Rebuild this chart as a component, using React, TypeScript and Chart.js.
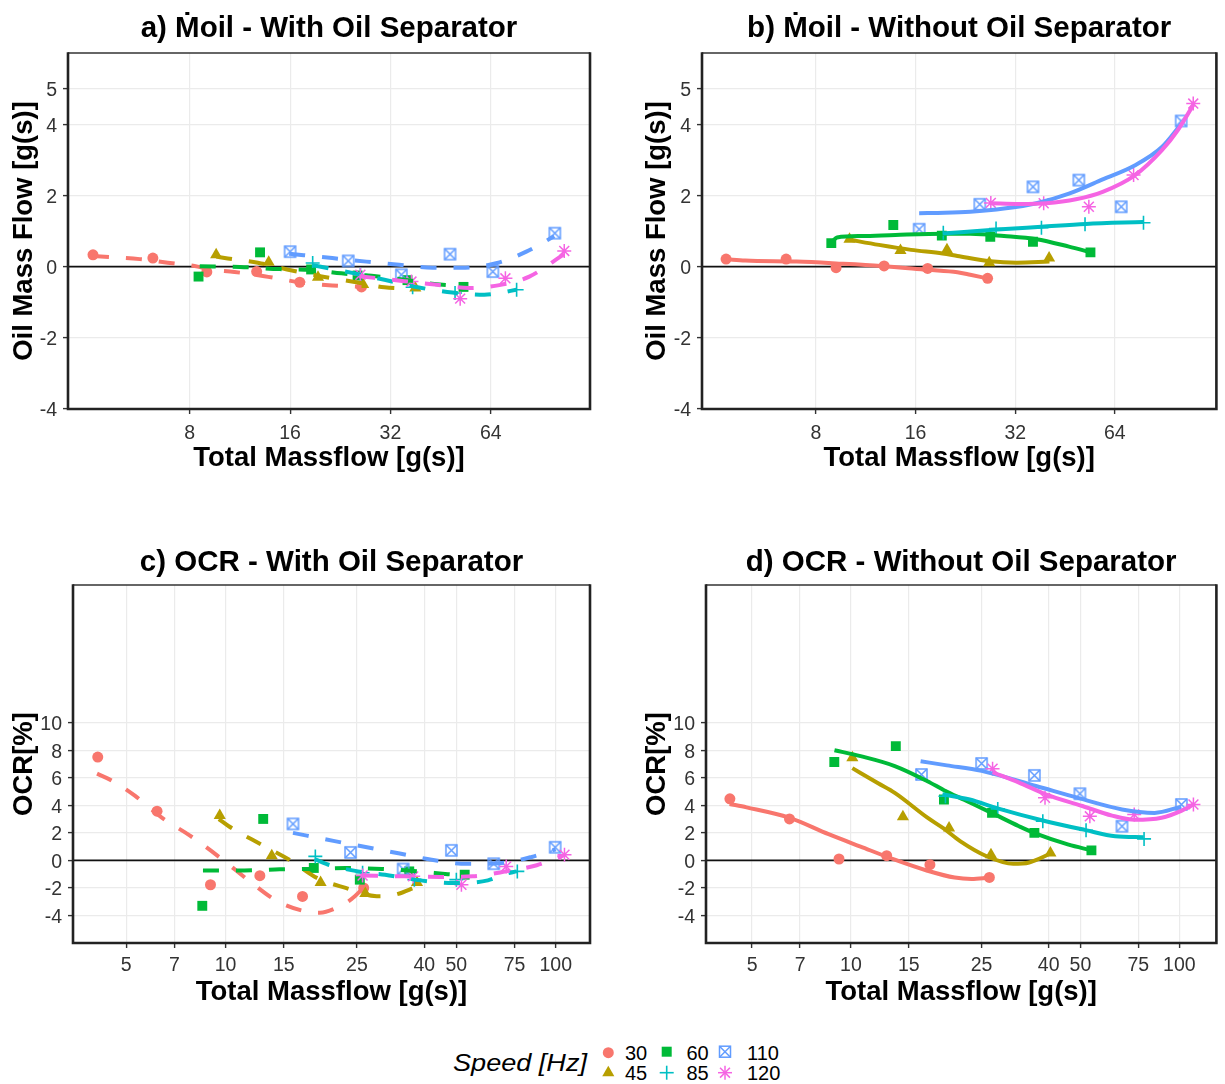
import React, { useEffect, useRef } from "react";
import { Chart, registerables } from "chart.js";

Chart.register(...registerables);

const FONT = "'Liberation Sans', Arial, Helvetica, sans-serif";
Chart.defaults.font.family = FONT;

// ---- series & axes ----
const speedLabels = ["30", "45", "60", "85", "110", "120"];
const speedColors = ["#F8766D", "#B79F00", "#00BA38", "#00BFC4", "#619CFF", "#F564E3"];

const log2Ticks = [8, 16, 32, 64];
const log10Ticks = [5, 7, 10, 15, 25, 40, 50, 75, 100];
const flowTicks = [-4, -2, 0, 2, 4, 5];
const ocrTicks = [-4, -2, 0, 2, 4, 6, 8, 10];

// ---- total massflow of each measurement [g/s], with oil separator ----
const mWith30 = [4.1, 6.2, 9.0, 12.7, 17.1, 26.2];
const mWith45 = [9.6, 13.8, 19.4, 26.5, 38.0];
const mWith60 = [8.5, 13.0, 18.5, 25.5, 36.0, 53.0];
const mWith85 = [18.7, 26.0, 37.3, 50.0, 76.5];
const mWith110 = [16.0, 23.9, 34.5, 48.3, 64.9, 99.6];
const mWith120 = [26.0, 37.0, 51.8, 70.8, 106.3];

// ---- total massflow of each measurement [g/s], without oil separator ----
const mWo30 = [4.28, 6.5, 9.2, 12.85, 17.4, 26.4];
const mWo45 = [10.1, 14.4, 19.9, 26.7, 40.5];
const mWo60 = [8.9, 13.7, 19.2, 26.9, 36.2, 54.0];
const mWo85 = [19.4, 28.0, 38.4, 52.0, 78.1];
const mWo110 = [16.4, 25.0, 36.2, 49.8, 66.9, 101.5];
const mWo120 = [27.0, 39.0, 53.4, 72.9, 110.4];

// ---- a) oil mass flow, with separator ----
const oilWith30 = [0.33, 0.24, -0.15, -0.14, -0.44, -0.57];
const oilWith45 = [0.33, 0.12, -0.3, -0.5, -0.6];
const oilWith60 = [-0.28, 0.4, -0.08, -0.25, -0.38, -0.57];
const oilWith85 = [0.1, -0.22, -0.58, -0.74, -0.65];
const oilWith110 = [0.42, 0.16, -0.23, 0.35, -0.14, 0.94];
const oilWith120 = [-0.23, -0.42, -0.9, -0.33, 0.44];

// ---- b) oil mass flow, without separator ----
const oilWo30 = [0.21, 0.21, -0.03, 0.02, -0.05, -0.33];
const oilWo45 = [0.77, 0.45, 0.47, 0.11, 0.24];
const oilWo60 = [0.66, 1.17, 0.87, 0.84, 0.7, 0.4];
const oilWo85 = [0.95, 1.07, 1.09, 1.19, 1.23];
const oilWo110 = [1.05, 1.75, 2.24, 2.43, 1.68, 4.09];
const oilWo120 = [1.79, 1.78, 1.68, 2.57, 4.58];

// ---- c) OCR, with separator ----
const ocrWith30 = [7.5, 3.57, -1.77, -1.11, -2.62, -2.0];
const ocrWith45 = [3.26, 0.34, -1.6, -2.4, -1.6];
const ocrWith60 = [-3.3, 3.01, -0.55, -1.4, -0.8, -1.04];
const ocrWith85 = [0.29, -0.9, -1.4, -1.4, -0.8];
const ocrWith110 = [2.65, 0.58, -0.63, 0.73, -0.24, 0.95];
const ocrWith120 = [-1.1, -1.16, -1.77, -0.44, 0.41];

// ---- d) OCR, without separator ----
const ocrWo30 = [4.47, 3.01, 0.1, 0.34, -0.31, -1.24];
const ocrWo45 = [7.46, 3.16, 2.36, 0.41, 0.54];
const ocrWo60 = [7.14, 8.3, 4.42, 3.45, 2.0, 0.73];
const ocrWo85 = [4.66, 3.74, 2.84, 2.19, 1.56];
const ocrWo110 = [6.24, 7.04, 6.17, 4.84, 2.48, 4.06];
const ocrWo120 = [6.66, 4.54, 3.2, 3.33, 4.06];

// ---- smoothed trends (x = massflow, y = value) ----
const fitOilWith30X = [4.1, 5.67, 6.87, 8.45, 9.18, 10.9, 13.4, 17.1, 21.4, 26.2];
const fitOilWith30Y = [0.3, 0.21, 0.11, 0.0, -0.08, -0.15, -0.27, -0.44, -0.53, -0.57];
const fitOilWith45X = [9.6, 10.4, 12.8, 16.2, 20.3, 25.0, 30.7, 38.0];
const fitOilWith45Y = [0.28, 0.23, 0.11, -0.11, -0.29, -0.43, -0.58, -0.62];
const fitOilWith60X = [8.57, 11.3, 14.9, 18.3, 22.8, 28.1, 35.2, 43.3, 53.3];
const fitOilWith60Y = [0.01, -0.01, -0.07, -0.09, -0.19, -0.26, -0.37, -0.49, -0.55];
const fitOilWith85X = [18.7, 21.0, 25.0, 30.7, 38.6, 49.1, 61.2, 67.9, 76.3];
const fitOilWith85Y = [0.04, -0.05, -0.19, -0.37, -0.58, -0.73, -0.79, -0.74, -0.65];
const fitOilWith110X = [15.9, 21.4, 27.1, 34.0, 42.8, 53.7, 66.9, 81.8, 99.2];
const fitOilWith110Y = [0.36, 0.24, 0.14, 0.05, -0.03, -0.03, 0.1, 0.42, 0.85];
const fitOilWith120X = [25.8, 35.2, 44.2, 55.2, 67.9, 83.5, 106.2];
const fitOilWith120Y = [-0.27, -0.41, -0.51, -0.6, -0.52, -0.28, 0.35];

const fitOilWo30X = [4.29, 4.89, 6.99, 9.2, 12.6, 17.4, 21.4, 23.4, 26.3];
const fitOilWo30Y = [0.21, 0.17, 0.14, 0.09, 0.02, -0.09, -0.16, -0.23, -0.33];
const fitOilWo45X = [10.06, 12.4, 15.5, 19.3, 21.4, 26.9, 32.3, 40.6];
const fitOilWo45Y = [0.76, 0.61, 0.47, 0.37, 0.3, 0.15, 0.11, 0.14];
const fitOilWo60X = [8.89, 9.26, 11.0, 13.9, 19.6, 23.4, 29.6, 37.1, 46.5, 54.1];
const fitOilWo60Y = [0.66, 0.82, 0.86, 0.89, 0.92, 0.92, 0.86, 0.77, 0.56, 0.4];
const fitOilWo85X = [19.3, 28.2, 38.4, 52.3, 77.9];
const fitOilWo85Y = [0.93, 1.04, 1.12, 1.2, 1.25];
const fitOilWo110X = [16.4, 19.6, 23.4, 29.6, 37.1, 46.5, 58.8, 73.7, 88.8, 101.8];
const fitOilWo110Y = [1.5, 1.51, 1.54, 1.63, 1.78, 2.05, 2.45, 2.85, 3.36, 4.02];
const fitOilWo120X = [26.9, 33.0, 39.7, 48.8, 58.8, 73.7, 88.8, 99.1, 110.6];
const fitOilWo120Y = [1.78, 1.76, 1.78, 1.89, 2.1, 2.57, 3.27, 3.83, 4.55];

const fitOcrWith30X = [4.08, 4.52, 5.31, 6.41, 7.8, 9.74, 11.8, 14.2, 17.4, 19.3, 21.9, 24.1, 25.9];
const fitOcrWith30Y = [6.3, 5.8, 4.7, 3.1, 1.8, 0.1, -1.5, -2.9, -3.7, -3.8, -3.4, -2.8, -2.1];
const fitOcrWith45X = [9.54, 10.2, 12.7, 15.7, 19.0, 23.1, 28.7, 32.5, 38.0];
const fitOcrWith45Y = [3.0, 2.5, 1.2, 0.0, -1.3, -2.0, -2.6, -2.5, -1.9];
const fitOcrWith60X = [8.54, 11.4, 14.6, 18.4, 23.1, 29.7, 38.2, 47.1, 53.0];
const fitOcrWith60Y = [-0.73, -0.73, -0.65, -0.62, -0.56, -0.62, -0.8, -1.0, -1.1];
const fitOcrWith85X = [18.6, 20.4, 25.2, 30.4, 38.8, 48.8, 62.3, 70.1, 76.2];
const fitOcrWith85Y = [0.1, -0.3, -0.8, -1.05, -1.45, -1.65, -1.45, -1.0, -0.8];
const fitOcrWith110X = [16.0, 21.4, 26.8, 33.7, 42.1, 53.8, 67.7, 84.6, 100];
const fitOcrWith110Y = [2.0, 1.4, 0.95, 0.5, 0.05, -0.25, -0.2, 0.25, 0.8];
const fitOcrWith120X = [25.9, 34.9, 44.6, 56.1, 70.6, 87.6, 106.5];
const fitOcrWith120Y = [-1.1, -1.16, -1.2, -1.15, -0.8, -0.35, 0.4];

const fitOcrWo30X = [4.27, 4.81, 6.48, 8.55, 10.7, 13.6, 17.1, 20.7, 23.3, 26.3];
const fitOcrWo30Y = [4.1, 3.85, 3.1, 1.9, 1.0, 0.05, -0.75, -1.25, -1.35, -1.25];
const fitOcrWo45X = [10.1, 12.1, 13.6, 17.1, 19.2, 21.5, 25.9, 31.2, 34.9, 40.6];
const fitOcrWo45Y = [6.7, 5.6, 4.9, 3.1, 2.3, 1.4, 0.3, -0.25, -0.15, 0.5];
const fitOcrWo60X = [8.91, 10.7, 13.6, 17.1, 19.2, 22.1, 26.8, 32.5, 36.6, 46.0, 53.6];
const fitOcrWo60Y = [8.0, 7.57, 6.85, 5.75, 5.1, 4.4, 3.45, 2.48, 1.94, 1.14, 0.75];
const fitOcrWo85X = [19.0, 23.0, 27.8, 38.4, 51.8, 63.8, 77.9];
const fitOcrWo85Y = [4.8, 4.42, 3.8, 2.9, 2.2, 1.75, 1.68];
const fitOcrWo110X = [16.3, 19.6, 25.0, 36.6, 49.7, 66.9, 84.1, 101.4];
const fitOcrWo110Y = [7.2, 6.9, 6.5, 5.4, 4.5, 3.7, 3.45, 3.9];
const fitOcrWo120X = [27.0, 32.5, 39.2, 50.7, 62.4, 73.2, 88.3, 101.4, 110.2];
const fitOcrWo120Y = [6.4, 5.65, 4.8, 3.95, 3.25, 2.95, 3.1, 3.6, 4.05];

const massWith = [mWith30, mWith45, mWith60, mWith85, mWith110, mWith120];
const massWo = [mWo30, mWo45, mWo60, mWo85, mWo110, mWo120];

type PanelSpec = {
  left: number; top: number; w: number; h: number;
  yAxisW: number; xAxisH: number; padRight: number;
  title: string; titlePad: { top: number; bottom: number };
  yTitle: string;
  xMin: number; xMax: number; xTicks: number[];
  yMin: number; yMax: number; yTicks: number[];
  xTickPad: number; xTitlePad: number;
  dashed: boolean;
  mass: number[][]; values: number[][]; fitX: number[][]; fitY: number[][];
};

const panels: PanelSpec[] = [
  {
    left: 0, top: 0, w: 612, h: 480, yAxisW: 68, xAxisH: 71, padRight: 22,
    title: "a) \u1E40oil - With Oil Separator", titlePad: { top: 11.1, bottom: 6.5 },
    yTitle: "Oil Mass Flow [g(s)]",
    xMin: 3.45, xMax: 127, xTicks: log2Ticks, yMin: -4, yMax: 6, yTicks: flowTicks,
    xTickPad: 7.6, xTitlePad: 4.8, dashed: true,
    mass: massWith,
    values: [oilWith30, oilWith45, oilWith60, oilWith85, oilWith110, oilWith120],
    fitX: [fitOilWith30X, fitOilWith45X, fitOilWith60X, fitOilWith85X, fitOilWith110X, fitOilWith120X],
    fitY: [fitOilWith30Y, fitOilWith45Y, fitOilWith60Y, fitOilWith85Y, fitOilWith110Y, fitOilWith120Y],
  },
  {
    left: 633, top: 0, w: 592, h: 480, yAxisW: 69, xAxisH: 71, padRight: 2,
    title: "b) \u1E40oil - Without Oil Separator", titlePad: { top: 11.1, bottom: 6.5 },
    yTitle: "Oil Mass Flow [g(s)]",
    xMin: 3.62, xMax: 129.7, xTicks: log2Ticks, yMin: -4, yMax: 6, yTicks: flowTicks,
    xTickPad: 7.6, xTitlePad: 4.8, dashed: false,
    mass: massWo,
    values: [oilWo30, oilWo45, oilWo60, oilWo85, oilWo110, oilWo120],
    fitX: [fitOilWo30X, fitOilWo45X, fitOilWo60X, fitOilWo85X, fitOilWo110X, fitOilWo120X],
    fitY: [fitOilWo30Y, fitOilWo45Y, fitOilWo60Y, fitOilWo85Y, fitOilWo110Y, fitOilWo120Y],
  },
  {
    left: 0, top: 530, w: 612, h: 480, yAxisW: 73, xAxisH: 67, padRight: 22,
    title: "c) OCR - With Oil Separator", titlePad: { top: 15.6, bottom: 4.0 },
    yTitle: "OCR[%]",
    xMin: 3.45, xMax: 127, xTicks: log10Ticks, yMin: -6, yMax: 20, yTicks: ocrTicks,
    xTickPad: 6.1, xTitlePad: 1.5, dashed: true,
    mass: massWith,
    values: [ocrWith30, ocrWith45, ocrWith60, ocrWith85, ocrWith110, ocrWith120],
    fitX: [fitOcrWith30X, fitOcrWith45X, fitOcrWith60X, fitOcrWith85X, fitOcrWith110X, fitOcrWith120X],
    fitY: [fitOcrWith30Y, fitOcrWith45Y, fitOcrWith60Y, fitOcrWith85Y, fitOcrWith110Y, fitOcrWith120Y],
  },
  {
    left: 633, top: 530, w: 592, h: 480, yAxisW: 73, xAxisH: 67, padRight: 2,
    title: "d) OCR - Without Oil Separator", titlePad: { top: 15.6, bottom: 4.0 },
    yTitle: "OCR[%]",
    xMin: 3.62, xMax: 129.7, xTicks: log10Ticks, yMin: -6, yMax: 20, yTicks: ocrTicks,
    xTickPad: 6.1, xTitlePad: 1.5, dashed: false,
    mass: massWo,
    values: [ocrWo30, ocrWo45, ocrWo60, ocrWo85, ocrWo110, ocrWo120],
    fitX: [fitOcrWo30X, fitOcrWo45X, fitOcrWo60X, fitOcrWo85X, fitOcrWo110X, fitOcrWo120X],
    fitY: [fitOcrWo30Y, fitOcrWo45Y, fitOcrWo60Y, fitOcrWo85Y, fitOcrWo110Y, fitOcrWo120Y],
  },
];

// open square with a diagonal cross (used for 110 Hz)
function boxCross(color: string): HTMLCanvasElement {
  const c = document.createElement("canvas");
  c.width = 15;
  c.height = 15;
  const g = c.getContext("2d")!;
  g.strokeStyle = color;
  g.lineWidth = 1.5;
  g.strokeRect(2, 2, 11, 11);
  g.beginPath();
  g.moveTo(2, 2);
  g.lineTo(13, 13);
  g.moveTo(13, 2);
  g.lineTo(2, 13);
  g.stroke();
  return c;
}

// zero reference line under the data, panel frame on top
const framePlugin = {
  id: "panelFrame",
  beforeDatasetsDraw(chart: any) {
    const { ctx, chartArea: a, scales } = chart;
    const y0 = scales.y.getPixelForValue(0);
    ctx.save();
    ctx.strokeStyle = "#111";
    ctx.lineWidth = 1.6;
    ctx.beginPath();
    ctx.moveTo(a.left, y0);
    ctx.lineTo(a.right, y0);
    ctx.stroke();
    ctx.restore();
  },
  afterDraw(chart: any) {
    const { ctx, chartArea: a } = chart;
    ctx.save();
    ctx.strokeStyle = "#333";
    ctx.lineWidth = 1.4;
    ctx.beginPath();
    ctx.moveTo(a.left, a.top);
    ctx.lineTo(a.right, a.top);
    ctx.stroke();
    ctx.strokeStyle = "#222";
    ctx.lineWidth = 2.6;
    ctx.beginPath();
    ctx.moveTo(a.left, a.top - 0.7);
    ctx.lineTo(a.left, a.bottom);
    ctx.lineTo(a.right, a.bottom);
    ctx.lineTo(a.right, a.top - 0.7);
    ctx.stroke();
    ctx.restore();
  },
};

function buildConfig(spec: PanelSpec): any {
  const markers = [
    { style: "circle", r: 5.5, bw: 0 },
    { style: "triangle", r: 7, bw: 0 },
    { style: "rect", r: 7, bw: 0 },
    { style: "cross", r: 7, bw: 1.6 },
    { style: boxCross(speedColors[4]), r: 6, bw: 0 },
    { style: "star", r: 7, bw: 1.5 },
  ];
  const datasets: any[] = [];
  speedLabels.forEach((lab, i) => {
    datasets.push({
      label: lab + " Hz trend",
      data: spec.fitX[i].map((x, k) => ({ x, y: spec.fitY[i][k] })),
      showLine: true,
      fill: false,
      borderColor: speedColors[i],
      borderWidth: 4,
      borderDash: spec.dashed ? [16, 17] : [],
      borderCapStyle: "butt",
      borderJoinStyle: "round",
      cubicInterpolationMode: "monotone",
      pointRadius: 0,
      pointHoverRadius: 0,
      order: 5 - i,
    });
    datasets.push({
      label: lab + " Hz",
      data: spec.mass[i].map((x, k) => ({ x, y: spec.values[i][k] })),
      showLine: false,
      pointStyle: markers[i].style,
      pointRadius: markers[i].r,
      pointHoverRadius: markers[i].r,
      pointBackgroundColor: speedColors[i],
      pointBorderColor: speedColors[i],
      pointBorderWidth: markers[i].bw,
      order: 11 - i,
    });
  });

  const grid = {
    color: "#EBEBEB",
    lineWidth: 1.2,
    drawTicks: true,
    tickLength: 5,
    tickColor: "#333",
    tickWidth: 1.4,
  };
  const tickFont = { size: 19.5, family: FONT };
  const axisTitleFont = { size: 27.5, weight: "bold" as const, family: FONT };

  return {
    type: "scatter",
    data: { datasets },
    plugins: [framePlugin],
    options: {
      animation: false,
      responsive: false,
      devicePixelRatio: 1,
      events: [],
      layout: { padding: { left: 0, right: spec.padRight, top: 0, bottom: 0 } },
      plugins: {
        legend: { display: false },
        tooltip: { enabled: false },
        title: {
          display: true,
          text: spec.title,
          fullSize: false,
          color: "#000",
          font: { size: 29.5, weight: "bold", family: FONT, lineHeight: 1.2 },
          padding: spec.titlePad,
        },
      },
      scales: {
        x: {
          type: "logarithmic",
          position: "bottom",
          min: spec.xMin,
          max: spec.xMax,
          afterBuildTicks: (s: any) => {
            s.ticks = spec.xTicks.map((v) => ({ value: v }));
          },
          afterFit: (s: any) => {
            s.height = spec.xAxisH;
          },
          grid,
          border: { display: false },
          ticks: {
            autoSkip: false,
            maxRotation: 0,
            minRotation: 0,
            padding: spec.xTickPad,
            color: "#333",
            font: tickFont,
            callback: (v: any) => String(v),
          },
          title: {
            display: true,
            text: "Total Massflow [g(s)]",
            color: "#000",
            font: axisTitleFont,
            padding: { top: 0, bottom: spec.xTitlePad },
          },
        },
        y: {
          type: "linear",
          position: "left",
          min: spec.yMin,
          max: spec.yMax,
          afterBuildTicks: (s: any) => {
            s.ticks = spec.yTicks.map((v) => ({ value: v }));
          },
          afterFit: (s: any) => {
            s.width = spec.yAxisW;
          },
          grid,
          border: { display: false },
          ticks: {
            autoSkip: false,
            padding: 6,
            labelOffset: 2,
            color: "#333",
            font: tickFont,
            callback: (v: any) => String(v),
          },
          title: {
            display: true,
            text: spec.yTitle,
            color: "#000",
            font: axisTitleFont,
            padding: { top: 8.3, bottom: 0 },
          },
        },
      },
    },
  };
}

function Panel({ spec }: { spec: PanelSpec }) {
  const ref = useRef<HTMLCanvasElement>(null);
  useEffect(() => {
    const chart = new Chart(ref.current!, buildConfig(spec));
    return () => chart.destroy();
  }, [spec]);
  return (
    <canvas
      ref={ref}
      width={spec.w}
      height={spec.h}
      style={{ position: "absolute", left: spec.left, top: spec.top, width: spec.w, height: spec.h }}
    />
  );
}

function Legend() {
  const c = speedColors;
  const cx1 = 608.3, cx2 = 666.7, cx3 = 725;
  const r1 = 22.7, r2 = 42.7;
  const a = 7 * Math.SQRT1_2;
  return (
    <svg
      width={1225}
      height={54}
      style={{ position: "absolute", left: 0, top: 1030 }}
      fontFamily={FONT}
    >
      <text x={453} y={40.7} fontSize={24} fontStyle="italic" fill="#000" textLength={134} lengthAdjust="spacingAndGlyphs">
        Speed [Hz]
      </text>
      <circle cx={cx1} cy={r1} r={5.5} fill={c[0]} />
      <polygon
        points={`${cx1},${r2 - 7} ${cx1 + 6.06},${r2 + 3.5} ${cx1 - 6.06},${r2 + 3.5}`}
        fill={c[1]}
      />
      <rect x={cx2 - 5} y={r1 - 6} width={10} height={10} fill={c[2]} />
      <g stroke={c[3]} strokeWidth={1.6}>
        <line x1={cx2 - 7} y1={r2} x2={cx2 + 7} y2={r2} />
        <line x1={cx2} y1={r2 - 7} x2={cx2} y2={r2 + 7} />
      </g>
      <g stroke={c[4]} strokeWidth={1.5} fill="none">
        <rect x={cx3 - 5.5} y={r1 - 6.5} width={11} height={11} />
        <line x1={cx3 - 5.5} y1={r1 - 6.5} x2={cx3 + 5.5} y2={r1 + 4.5} />
        <line x1={cx3 + 5.5} y1={r1 - 6.5} x2={cx3 - 5.5} y2={r1 + 4.5} />
      </g>
      <g stroke={c[5]} strokeWidth={1.5}>
        <line x1={cx3 - 7} y1={r2} x2={cx3 + 7} y2={r2} />
        <line x1={cx3} y1={r2 - 7} x2={cx3} y2={r2 + 7} />
        <line x1={cx3 - a} y1={r2 - a} x2={cx3 + a} y2={r2 + a} />
        <line x1={cx3 + a} y1={r2 - a} x2={cx3 - a} y2={r2 + a} />
      </g>
      <g fontSize={20} fill="#000">
        <text x={625} y={29.8}>{speedLabels[0]}</text>
        <text x={625} y={49.8}>{speedLabels[1]}</text>
        <text x={686.5} y={29.8}>{speedLabels[2]}</text>
        <text x={686.5} y={49.8}>{speedLabels[3]}</text>
        <text x={747} y={29.8}>{speedLabels[4]}</text>
        <text x={747} y={49.8}>{speedLabels[5]}</text>
      </g>
    </svg>
  );
}

export default function App() {
  return (
    <div
      style={{
        position: "absolute",
        left: 0,
        top: 0,
        width: 1225,
        height: 1084,
        background: "#fff",
        overflow: "hidden",
      }}
    >
      {panels.map((p, i) => (
        <Panel key={i} spec={p} />
      ))}
      <Legend />
    </div>
  );
}
